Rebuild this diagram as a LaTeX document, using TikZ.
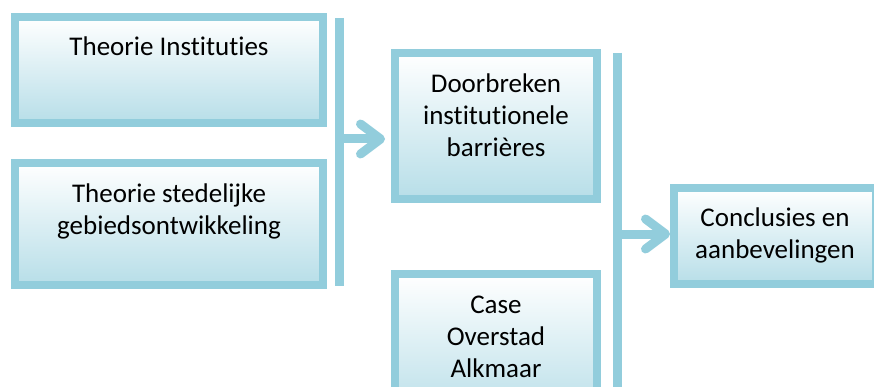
\documentclass[tikz,border=0pt]{standalone}
\usepackage{fontspec}
\setmainfont{Carlito}[Ligatures=NoCommon]
\usepackage{xcolor}
\usepackage{tikz}
\usetikzlibrary{positioning}
\usetikzlibrary{arrows.meta}
\definecolor{rimblue}{HTML}{92CDDC}
\definecolor{fillblue}{HTML}{B7DEE8}

\begin{document}
\begin{tikzpicture}[x=1pt,y=-1pt,node distance=32pt,
                    box/.style={draw=rimblue,line width=8pt,top color=white,bottom color=fillblue,
                                align=center,inner sep=0pt,text height=0pt,text depth=0pt,
                                font=\fontsize{27}{32}\selectfont},
                    bar/.style={draw=rimblue,line width=9pt},
                    flow/.style={draw=rimblue,line width=9pt,
                                 -{Straight Barb[length=20pt,width=30pt,round]}}]
\useasboundingbox (0,0) rectangle (874,387);
\node[box,minimum width=308pt,minimum height=106pt,text depth=28pt] (inst) at (169,70) {Theorie Instituties};
\node[box,minimum width=308pt,minimum height=122pt,text height=20pt,below = of inst] (stad) {Theorie stedelijke\\gebiedsontwikkeling};
\node[box,minimum width=202pt,minimum height=146pt,text height=61pt] (doorb) at (496,126) {Doorbreken\\institutionele\\barrières};
\node[box,minimum width=202pt,minimum height=146pt,text height=60pt,below = 67pt of doorb] (case) {Case\\Overstad\\Alkmaar};
\node[box,minimum width=202pt,minimum height=96pt,text height=45pt] (conc) at (775,236) {Conclusies en\\aanbevelingen};
\coordinate (bar1top) at (339.5,18);
\coordinate (bar1bot) at (339.5,286);
\coordinate (bar2top) at (617.5,53);
\coordinate (bar2bot) at (617.5,387);
\coordinate (join1) at (344,139);
\coordinate (join2) at (622,234);
\draw[bar] (bar1top) -- (bar1bot);
\draw[bar] (bar2top) -- (bar2bot);
\draw[flow,shorten >=6pt] (join1) -- (join1 -| doorb.west);
\draw[flow] (join2) -- (join2 -| conc.west);
\end{tikzpicture}
\end{document}
